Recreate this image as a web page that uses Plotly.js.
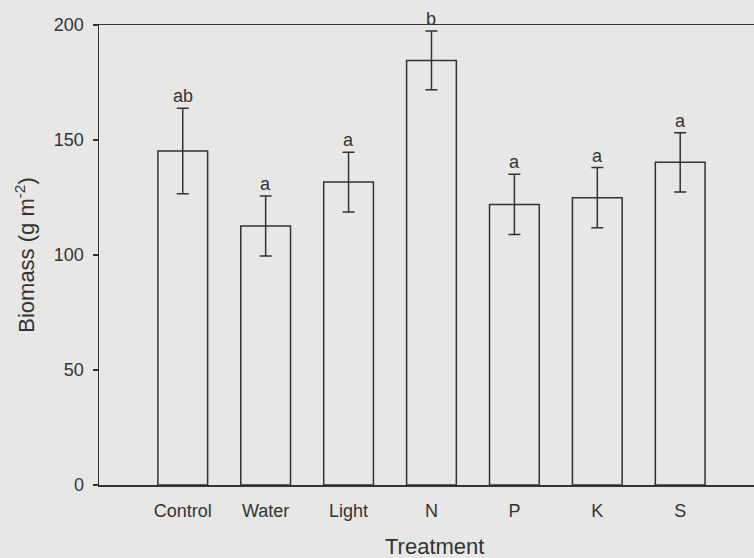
<!DOCTYPE html>
<html>
<head>
<meta charset="utf-8">
<script src="https://cdn.plot.ly/plotly-3.0.1.min.js"></script>
<style>html,body{margin:0;padding:0;background:#e7e7e5;}#chart{width:754px;height:558px;}</style>
</head>
<body>
<div id="chart"></div>
<script>
const treatments = ["Control", "Water", "Light", "N", "P", "K", "S"];
const biomass = [145.2, 112.6, 131.7, 184.6, 122.0, 124.9, 140.3];
const stdErr = [18.6, 13.0, 13.0, 12.8, 13.1, 13.1, 12.9];
const groups = ["ab", "a", "a", "b", "a", "a", "a"];
const yTicks = [0, 50, 100, 150, 200];

const ink = "#333333";
const bg = "#e7e7e5";
const font = "Liberation Sans, Arial, sans-serif";

const trace = {
  type: "bar",
  x: treatments,
  y: biomass,
  marker: { color: "rgba(0,0,0,0)", line: { color: ink, width: 1.5 } },
  error_y: { type: "data", array: stdErr, visible: true, color: ink, thickness: 1.5, width: 6 },
  hoverinfo: "none"
};

const annotations = treatments.map((t, i) => ({
  x: t, y: biomass[i] + stdErr[i], xref: "x", yref: "y",
  text: groups[i], showarrow: false, yanchor: "bottom", yshift: 0,
  font: { family: font, size: 18, color: ink }
}));
annotations.push({
  xref: "paper", yref: "paper", x: 0.512, y: -0.0,
  yanchor: "middle", xanchor: "center", yshift: -61,
  text: "Treatment", showarrow: false,
  font: { family: font, size: 22, color: ink }
});

const layout = {
  width: 754, height: 558,
  margin: { l: 99, r: 0, t: 25, b: 73, pad: 0 },
  paper_bgcolor: bg, plot_bgcolor: bg,
  showlegend: false,
  bargap: 0.4,
  font: { family: font, size: 18, color: ink },
  xaxis: {
    type: "category", range: [-1.01, 6.89],
    showline: true, linecolor: ink, linewidth: 1.5, mirror: true,
    ticks: "", showgrid: false, zeroline: false,
    ticklabelstandoff: 9,
    tickfont: { family: font, size: 18, color: ink }
  },
  yaxis: {
    range: [0, 200], tickvals: yTicks, ticktext: yTicks.map(String),
    showline: true, linecolor: ink, linewidth: 1.5, mirror: false,
    ticks: "outside", ticklen: 5, tickwidth: 1.5, tickcolor: ink,
    ticklabelstandoff: 5,
    showgrid: false, zeroline: false,
    tickfont: { family: font, size: 18, color: ink },
    title: { text: "Biomass (g m<sup>-2</sup>)", standoff: 13, font: { family: font, size: 22, color: ink } }
  },
  annotations: annotations
};

Plotly.newPlot("chart", [trace], layout, { staticPlot: true, displayModeBar: false });
</script>
</body>
</html>
